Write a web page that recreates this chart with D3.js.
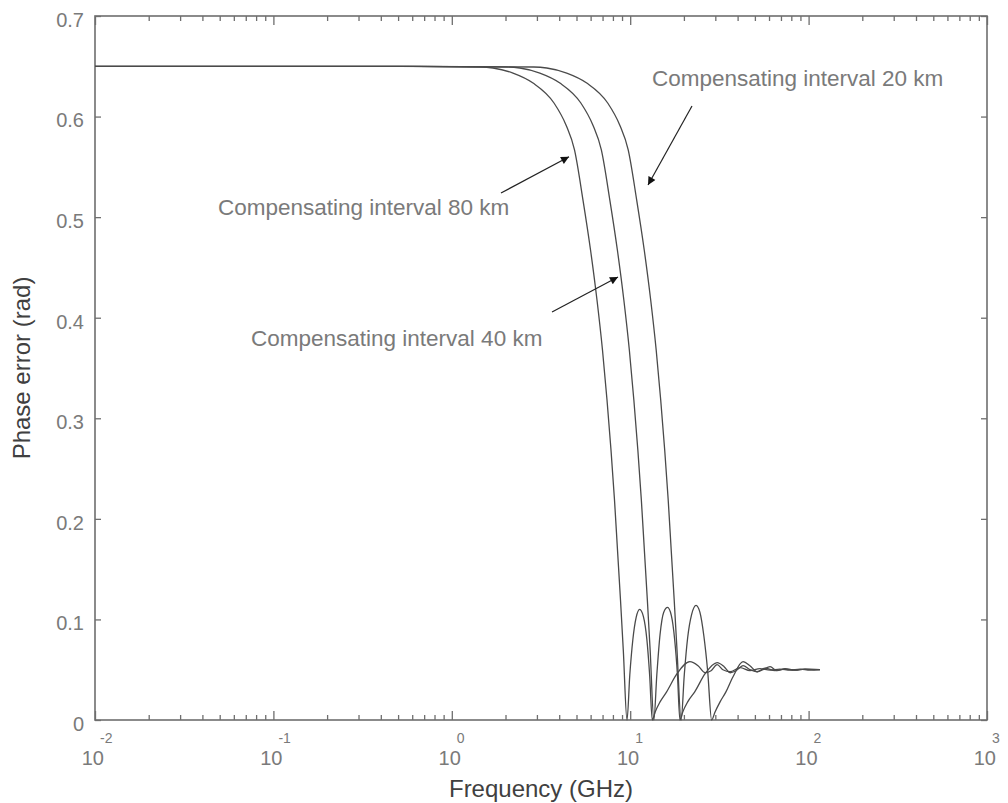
<!DOCTYPE html>
<html><head><meta charset="utf-8">
<script src="https://cdn.jsdelivr.net/npm/d3@7"></script>
<style>
body{margin:0;background:#fff}
svg{display:block;font-family:"Liberation Sans",Arial,Helvetica,sans-serif}
</style>
</head><body>
<svg id="chart" width="1008" height="803"></svg>
<script>
// ---- data ----
const yTicks = [0, 0.1, 0.2, 0.3, 0.4, 0.5, 0.6, 0.7];
const yTickLabels = ["0", "0.1", "0.2", "0.3", "0.4", "0.5", "0.6", "0.7"];
const xDecades = [0.01, 0.1, 1, 10, 100, 1000];
const xExponents = ["-2", "-1", "0", "1", "2", "3"];
const xLabel = "Frequency (GHz)";
const yLabel = "Phase error (rad)";

// [frequency (GHz), phase error (rad)]
const curve80km = [[0.01,0.65],[0.1,0.65],[0.5,0.65],[1.439,0.6493],[1.702,0.6483],[2.203,0.6433],[2.853,0.6334],[3.740,0.6135],[4.366,0.5916],[4.873,0.5668],[5.437,0.517],[5.993,0.4673],[6.514,0.4176],[6.993,0.3679],[7.413,0.3182],[7.805,0.2685],[8.166,0.2188],[8.488,0.169],[8.823,0.1193],[9.147,0.0696],[9.596,0],
  [9.95,0.045],[10.35,0.08],[10.8,0.102],[11.3,0.11],[11.85,0.103],[12.4,0.08],[12.85,0.045],[13.3,0],
  [13.8,0.008],[14.7,0.018],[16.0,0.028],[18.3,0.046],[21.6,0.058],[24.0,0.054],[26.3,0.047],[28.4,0.049],[30.7,0.055],[33.1,0.05],[36.3,0.048],[41.3,0.052],[46.9,0.049],[53.4,0.051],[60.8,0.0495],[69.1,0.0505],[78.6,0.0495],[89.5,0.0505],[101.8,0.0495],[115.8,0.05]];
const curve40km = [[0.01,0.65],[0.1,0.65],[0.5,0.65],[2.035,0.6493],[2.407,0.6483],[3.115,0.6433],[4.035,0.6334],[5.289,0.6135],[6.174,0.5916],[6.891,0.5668],[7.689,0.517],[8.475,0.4673],[9.212,0.4176],[9.890,0.3679],[10.483,0.3182],[11.038,0.2685],[11.548,0.2188],[12.004,0.169],[12.478,0.1193],[12.936,0.0696],[13.571,0],
  [14.1,0.045],[14.7,0.085],[15.4,0.107],[16.2,0.112],[17.0,0.104],[17.75,0.08],[18.4,0.045],[19.0,0],
  [19.7,0.008],[21.0,0.018],[23.0,0.028],[26.3,0.046],[30.7,0.057],[33.6,0.053],[36.3,0.047],[39.2,0.049],[42.9,0.054],[46.9,0.05],[51.4,0.048],[57.0,0.0515],[64.8,0.049],[73.8,0.0505],[83.9,0.0495],[95.4,0.0505],[115.8,0.05]];
const curve20km = [[0.01,0.65],[0.1,0.65],[0.5,0.65],[2.878,0.6493],[3.404,0.6483],[4.406,0.6433],[5.706,0.6334],[7.48,0.6135],[8.732,0.5916],[9.746,0.5668],[10.874,0.517],[11.986,0.4673],[13.028,0.4176],[13.986,0.3679],[14.826,0.3182],[15.61,0.2685],[16.332,0.2188],[16.976,0.169],[17.646,0.1193],[18.294,0.0696],[19.3,0],
  [20.1,0.045],[21.0,0.082],[22.1,0.105],[23.4,0.114],[24.6,0.107],[25.9,0.083],[27.2,0.048],[28.6,0],
  [29.9,0.008],[31.9,0.018],[34.4,0.028],[37.7,0.043],[42.9,0.058],[46.9,0.054],[51.4,0.048],[55.5,0.05],[60.8,0.053],[66.5,0.049],[73.8,0.051],[83.9,0.0495],[95.4,0.0505],[115.8,0.05]];

// annotations: text, text anchor point, arrow tail, arrow tip (data coordinates)
const annotationTexts = ["Compensating interval 20 km", "Compensating interval 80 km", "Compensating interval 40 km"];
const annotationAt = [[13.24, 0.630], [0.0489, 0.502], [0.0749, 0.372]];
const arrowFrom = [[22.2, 0.6105], [1.887, 0.524], [3.645, 0.4057]];
const arrowTo = [[12.59, 0.532], [4.54, 0.560], [8.54, 0.4405]];

// ---- layout ----
const W = 1008, H = 803;
const M = {left: 95, right: 21, top: 16, bottom: 83};
const svg = d3.select("#chart");
const x = d3.scaleLog().domain([0.01, 1000]).range([M.left, W - M.right]);
const y = d3.scaleLinear().domain([0, 0.7]).range([H - M.bottom, M.top]);
const axisColor = "#6e6e6e", labelColor = "#7a7a7a";

const allTicks = x.ticks().filter(t => t >= 0.01 && t <= 1000);
const minorTicks = allTicks.filter(t => !xDecades.some(d => Math.abs(d - t) / d < 1e-9));

function styleAxis(g) {
  g.select(".domain").remove();
  g.selectAll(".tick line").attr("stroke", axisColor).attr("stroke-width", 1.3);
  g.selectAll(".tick text").remove();
}
[[d3.axisBottom, y(0)], [d3.axisTop, y(0.7)]].forEach(([ax, pos]) => {
  svg.append("g").attr("transform", `translate(0,${pos})`)
    .call(ax(x).tickValues(xDecades).tickSizeInner(-9).tickSizeOuter(0).tickFormat(""))
    .call(styleAxis);
  svg.append("g").attr("transform", `translate(0,${pos})`)
    .call(ax(x).tickValues(minorTicks).tickSizeInner(-5).tickSizeOuter(0).tickFormat(""))
    .call(styleAxis);
});
svg.append("g").attr("transform", `translate(${x(0.01)},0)`)
  .call(d3.axisLeft(y).tickValues(yTicks).tickSizeInner(-6).tickSizeOuter(0).tickPadding(11)
    .tickFormat((d, i) => yTickLabels[i]))
  .call(g => {
    g.select(".domain").remove();
    g.selectAll(".tick line").attr("stroke", axisColor).attr("stroke-width", 1.3);
    g.selectAll(".tick text").attr("fill", labelColor).attr("font-size", 20).attr("dy", "0.52em");
  });
svg.append("g").attr("transform", `translate(${x(1000)},0)`)
  .call(d3.axisRight(y).tickValues(yTicks).tickSizeInner(-6).tickSizeOuter(0).tickFormat(""))
  .call(styleAxis);

svg.append("rect")
  .attr("x", x(0.01)).attr("y", y(0.7))
  .attr("width", x(1000) - x(0.01)).attr("height", y(0) - y(0.7))
  .attr("fill", "none").attr("stroke", axisColor).attr("stroke-width", 1.6);

const xl = svg.append("g").attr("fill", labelColor);
xDecades.forEach((d, i) => {
  xl.append("text").attr("x", x(d) + 9).attr("y", y(0) + 45)
    .attr("text-anchor", "end").attr("font-size", 20).text("10");
  xl.append("text").attr("x", x(d) + 5).attr("y", y(0) + 23)
    .attr("text-anchor", "start").attr("font-size", 14).text(xExponents[i]);
});

svg.append("text").attr("x", (x(0.01) + x(1000)) / 2).attr("y", H - 6)
  .attr("text-anchor", "middle").attr("font-size", 24).attr("fill", "#404040").text(xLabel);
svg.append("text")
  .attr("transform", `translate(30,${(y(0) + y(0.7)) / 2}) rotate(-90)`)
  .attr("text-anchor", "middle").attr("font-size", 24).attr("fill", "#404040").text(yLabel);

const line = d3.line().x(d => x(d[0])).y(d => y(d[1])).curve(d3.curveMonotoneX);
[curve80km, curve40km, curve20km].forEach(c => {
  svg.append("path").datum(c).attr("d", line)
    .attr("fill", "none").attr("stroke", "#4a4a4a").attr("stroke-width", 1.3);
});

svg.append("defs").append("marker")
  .attr("id", "ah").attr("viewBox", "0 0 10 10").attr("refX", 10).attr("refY", 5)
  .attr("markerWidth", 13).attr("markerHeight", 8).attr("markerUnits", "userSpaceOnUse")
  .attr("orient", "auto")
  .append("path").attr("d", "M0,0 L10,5 L0,10 Z").attr("fill", "#111");
annotationTexts.forEach((t, i) => {
  svg.append("line")
    .attr("x1", x(arrowFrom[i][0])).attr("y1", y(arrowFrom[i][1]))
    .attr("x2", x(arrowTo[i][0])).attr("y2", y(arrowTo[i][1]))
    .attr("stroke", "#222").attr("stroke-width", 1.2).attr("marker-end", "url(#ah)");
  svg.append("text").attr("x", x(annotationAt[i][0])).attr("y", y(annotationAt[i][1]))
    .attr("font-size", 22.5).attr("fill", labelColor).text(t);
});
</script>
</body></html>
